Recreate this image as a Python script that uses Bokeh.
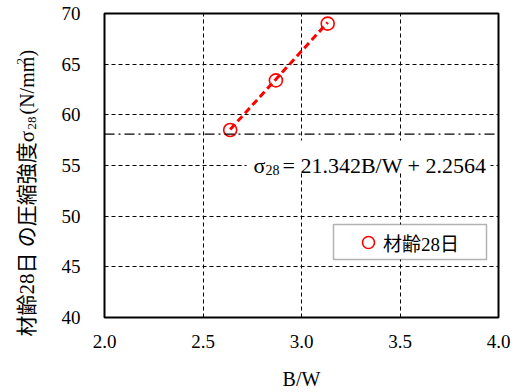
import math

from bokeh.embed import file_html
from bokeh.layouts import row
from bokeh.models import (BoxAnnotation, FixedTicker, Label, Legend, LegendItem,
                          PrintfTickFormatter, Range1d, Span)
from bokeh.plotting import figure
from bokeh.resources import INLINE

# --- data -------------------------------------------------------------------
bw_ratio = [2.638, 2.870, 3.133]          # B/W
sigma28 = [58.5, 63.4, 69.0]              # compressive strength at 28 days (N/mm2)
fit_slope = 21.342
fit_intercept = 2.2564
required_strength = 58.1                  # dash-dot reference level
x_ticks = [2.0, 2.5, 3.0, 3.5, 4.0]
y_ticks = [40, 45, 50, 55, 60, 65, 70]
series_label = "材齢28日"

# --- geometry ---------------------------------------------------------------
W, H = 518, 392
TITLE_W = 50                              # strip holding the vertical title
LEFT, RIGHT, TOP, BOTTOM = 104, 20, 13, 75
X0, X1, Y0, Y1 = 2.0, 4.0, 40, 70
FW = W - LEFT - RIGHT
FH = H - TOP - BOTTOM


def px_x(sx):
    """canvas pixel column -> data x"""
    return X0 + (sx - LEFT) * (X1 - X0) / FW


def px_y(sy):
    """canvas pixel row -> data y"""
    return Y1 - (sy - TOP) * (Y1 - Y0) / FH


SERIF = "'Liberation Serif', 'Noto Sans CJK JP'"

p = figure(width=W - TITLE_W, height=H, x_range=(X0, X1), y_range=(Y0, Y1),
           output_backend="svg", toolbar_location=None,
           min_border_left=LEFT - TITLE_W, min_border_right=RIGHT,
           min_border_top=TOP, min_border_bottom=BOTTOM)
p.background_fill_color = "white"
p.border_fill_color = "white"
p.outline_line_color = "black"
p.outline_line_width = 2

# axes
p.xaxis.ticker = FixedTicker(ticks=x_ticks)
p.yaxis.ticker = FixedTicker(ticks=y_ticks)
p.xaxis.formatter = PrintfTickFormatter(format="%.1f")
p.yaxis.formatter = PrintfTickFormatter(format="%d")
for ax in (p.xaxis, p.yaxis):
    ax.axis_line_color = None
    ax.major_tick_line_color = None
    ax.minor_tick_line_color = None
    ax.major_tick_out = 0
    ax.major_tick_in = 0
    ax.major_label_text_font = SERIF
    ax.major_label_text_font_size = "19px"
    ax.major_label_text_color = "black"
p.xaxis.major_label_standoff = 17
p.yaxis.major_label_standoff = 24
p.xaxis.axis_label = "B/W"
p.xaxis.axis_label_text_font = SERIF
p.xaxis.axis_label_text_font_size = "20px"
p.xaxis.axis_label_text_font_style = "normal"
p.xaxis.axis_label_text_color = "black"
p.xaxis.axis_label_standoff = 17

# grid
p.grid.grid_line_color = "black"
p.grid.grid_line_dash = "4 3"
p.grid.grid_line_width = 1

# dash-dot reference level
p.add_layout(Span(location=required_strength, dimension="width",
                  line_color="black", line_width=1.2, line_dash="10 4 2 4"))

# regression line from the stated coefficients
x_fit = [min(bw_ratio), max(bw_ratio)]
y_fit = [fit_slope * v + fit_intercept for v in x_fit]
p.line(x_fit, y_fit, line_color="#ff0000", line_width=3, line_dash="7 4")

pts = p.scatter(bw_ratio, sigma28, marker="circle", size=13,
                fill_color=None, line_color="#ff0000", line_width=1.6)

# equation with white backing
p.add_layout(BoxAnnotation(left=px_x(246), right=px_x(490),
                           top=px_y(140), bottom=px_y(172),
                           fill_color="white", fill_alpha=1, line_color=None))
eq_base = px_y(165)
eq = dict(text_font=SERIF, text_baseline="alphabetic", text_color="black")
p.add_layout(Label(x=px_x(253), y=eq_base, text="σ", text_font_size="22px", **eq))
p.add_layout(Label(x=px_x(265), y=px_y(169), text="28", text_font_size="14px", **eq))
p.add_layout(Label(x=px_x(282), y=eq_base,
                   text=f"= {fit_slope}B/W + {fit_intercept}",
                   text_font_size="22px", **eq))

# legend box
p.add_layout(BoxAnnotation(left=px_x(333), right=px_x(486),
                           top=px_y(224), bottom=px_y(259),
                           fill_color="white", fill_alpha=1,
                           line_color="black", line_width=1.5))
legend = Legend(items=[LegendItem(label=series_label, renderers=[pts])],
                location=(249, 60), padding=0, margin=0, spacing=0,
                border_line_color=None, background_fill_alpha=0,
                glyph_width=30, glyph_height=30, label_standoff=0,
                label_text_font=SERIF, label_text_font_size="19px",
                label_text_color="black")
p.add_layout(legend, "center")

# vertical title strip (data units == canvas pixels)
t = figure(frame_width=TITLE_W, frame_height=H, x_range=Range1d(0, TITLE_W),
           y_range=Range1d(H, 0), x_axis_type=None, y_axis_type=None,
           output_backend="svg", toolbar_location=None,
           min_border=0, min_border_left=0, min_border_right=0,
           min_border_top=0, min_border_bottom=0)
t.outline_line_color = None
t.background_fill_color = "white"
t.border_fill_color = "white"
t.grid.visible = False

yl = dict(angle=math.pi / 2, text_font=SERIF, text_baseline="middle",
          text_align="left", text_color="black")
t.add_layout(Label(x=26, y=323, text="材齢28日 の圧縮強度σ",
                   text_font_size="21px", **yl))
t.add_layout(Label(x=31, y=116, text="28", text_font_size="13px", **yl))
t.add_layout(Label(x=26, y=101, text="(N/mm", text_font_size="20px", **yl))
t.add_layout(Label(x=20, y=51, text="2", text_font_size="13px", **yl))
t.add_layout(Label(x=26, y=43, text=")", text_font_size="20px", **yl))

layout = row(t, p, spacing=0)
open("out.html", "w").write(file_html(layout, INLINE))
